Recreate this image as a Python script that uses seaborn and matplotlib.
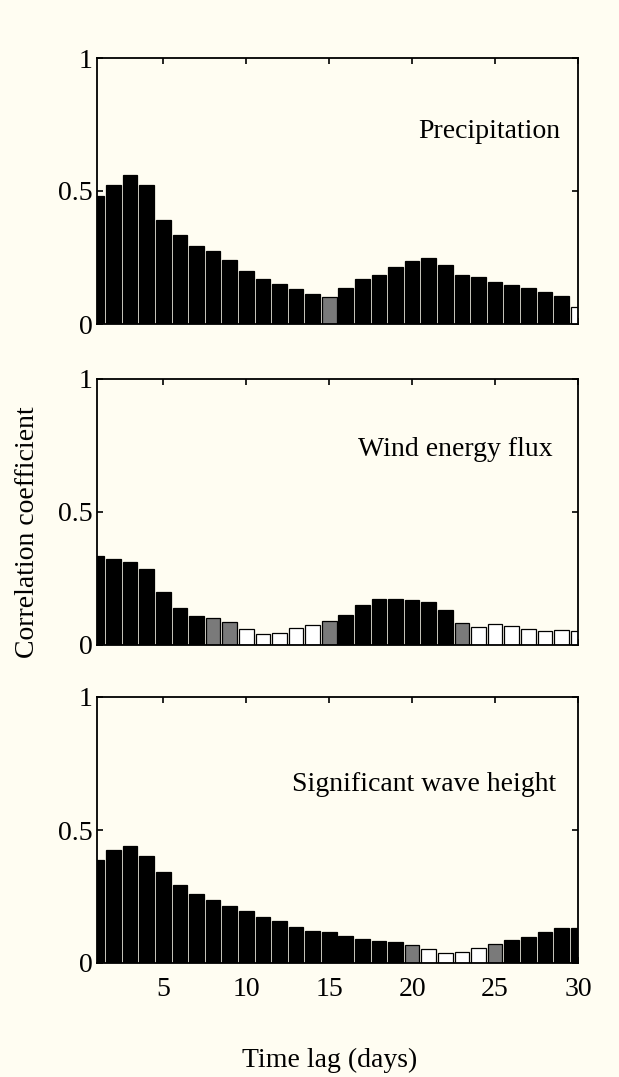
import matplotlib
matplotlib.use("Agg")
import matplotlib.pyplot as plt
import numpy as np
import pandas as pd
import seaborn as sns

# Time lags (days)
lags = list(range(1, 31))

# Lagged correlation coefficients for each driver
precipitation = [0.483, 0.523, 0.560, 0.522, 0.390, 0.336, 0.294, 0.274, 0.239, 0.201,
                 0.171, 0.152, 0.130, 0.114, 0.102, 0.137, 0.169, 0.186, 0.214, 0.236,
                 0.249, 0.220, 0.184, 0.177, 0.157, 0.147, 0.135, 0.121, 0.104, 0.064]
wind_energy_flux = [0.335, 0.325, 0.312, 0.286, 0.200, 0.138, 0.110, 0.102, 0.085, 0.061,
                    0.041, 0.046, 0.063, 0.075, 0.090, 0.113, 0.150, 0.172, 0.172, 0.169,
                    0.160, 0.133, 0.081, 0.069, 0.078, 0.073, 0.061, 0.051, 0.055, 0.051]
wave_height = [0.386, 0.426, 0.438, 0.401, 0.341, 0.295, 0.261, 0.236, 0.216, 0.194,
               0.174, 0.159, 0.136, 0.121, 0.116, 0.103, 0.091, 0.084, 0.079, 0.066,
               0.051, 0.038, 0.040, 0.055, 0.070, 0.088, 0.099, 0.116, 0.130, 0.131]

# Significance class of each lag: high, moderate, not significant
precipitation_sig = ["high"] * 14 + ["moderate"] + ["high"] * 14 + ["none"]
wind_energy_flux_sig = (["high"] * 7 + ["moderate"] * 2 + ["none"] * 5 + ["moderate"]
                        + ["high"] * 7 + ["moderate"] + ["none"] * 7)
wave_height_sig = (["high"] * 19 + ["moderate"] + ["none"] * 4 + ["moderate"]
                   + ["high"] * 5)

panel_titles = ["Precipitation", "Wind energy flux", "Significant wave height"]
x_ticks = [5, 10, 15, 20, 25, 30]
y_ticks = [0, 0.5, 1]
y_tick_labels = ["0", "0.5", "1"]

sig_colors = {"high": "#000000", "moderate": "#7a7a7a", "none": "#ffffff"}
bg = "#fffdf2"

sns.set_theme(style="ticks")
plt.rcParams["font.family"] = ["Liberation Serif", "DejaVu Serif"]
plt.rcParams["axes.linewidth"] = 1.3

fig = plt.figure(figsize=(6.19, 10.77), dpi=100, facecolor=bg)

left, width, height = 97 / 619, 481 / 619, 266 / 1077
bottoms = [1 - 324 / 1077, 1 - 645 / 1077, 1 - 963 / 1077]
label_pos = [(0.963, 0.70), (0.948, 0.71), (0.955, 0.647)]

series = [(precipitation, precipitation_sig),
          (wind_energy_flux, wind_energy_flux_sig),
          (wave_height, wave_height_sig)]

for i, ((vals, sig), title, b, (tx, ty)) in enumerate(zip(series, panel_titles, bottoms, label_pos)):
    ax = fig.add_axes([left, b, width, height])
    ax.set_facecolor(bg)
    df = pd.DataFrame({"lag": lags, "r": vals, "sig": sig})
    sns.barplot(data=df, x="lag", y="r", hue="sig", palette=sig_colors,
                hue_order=["high", "moderate", "none"], native_scale=True,
                dodge=False, width=0.88, edgecolor="black", linewidth=0.9,
                legend=False, ax=ax)
    ax.set_xlim(1, 30)
    ax.set_ylim(0, 1)
    ax.set_xticks(x_ticks)
    ax.set_yticks(y_ticks)
    ax.set_yticklabels(y_tick_labels)
    ax.set_xlabel("")
    ax.set_ylabel("")
    ax.tick_params(direction="in", top=True, right=True, length=4, width=1.2,
                   labelsize=20, color="black", labelcolor="black")
    ax.tick_params(axis="x", pad=10)
    ax.tick_params(axis="y", pad=3)
    if i < 2:
        ax.tick_params(axis="x", labelbottom=False)
    for s in ax.spines.values():
        s.set_visible(True)
        s.set_color("black")
    ax.text(tx, ty, title, transform=ax.transAxes, ha="right", va="baseline",
            fontsize=20, color="black")

fig.text(28 / 619, 1 - 532 / 1077, "Correlation coefficient", rotation=90,
         ha="center", va="center", fontsize=20, color="black")
fig.text(330 / 619, 1 - 1060 / 1077, "Time lag (days)", ha="center", va="center",
         fontsize=20, color="black")

fig.savefig("out.png", dpi=100, facecolor=bg)
